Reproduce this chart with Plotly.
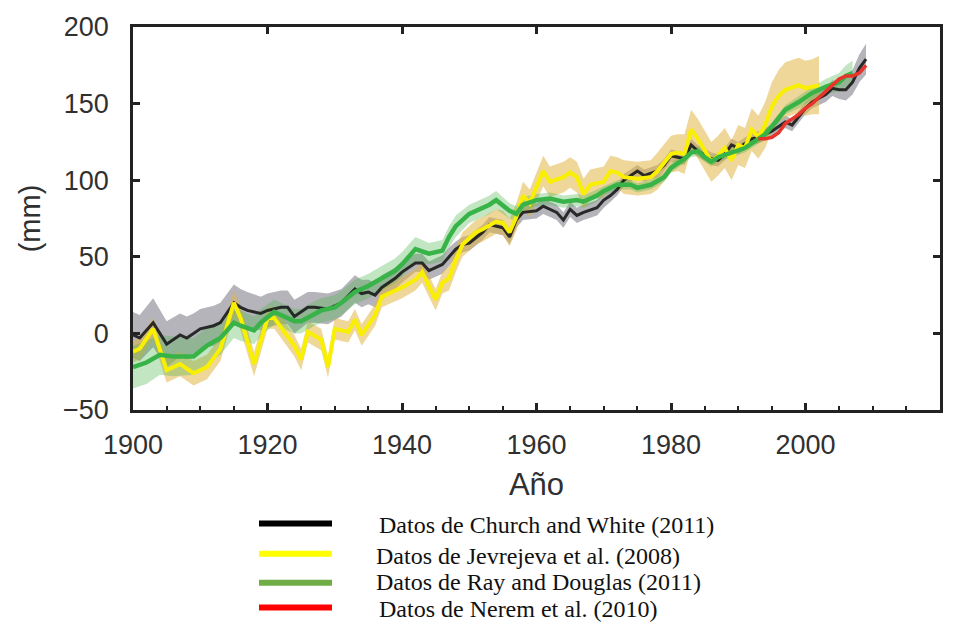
import plotly.graph_objects as go

# ---------------- data ----------------
cw_years = [1900,1901,1903,1905,1907,1908,1909,1910,1912,1913,1915,1916,1917,1919,1920,1922,1923,1924,1926,1927,
            1929,1931,1933,1934,1935,1936,1937,1939,1940,1942,1943,1944,1946,1947,1948,1949,1950,1952,1953,1955,
            1956,1957,1958,1960,1961,1963,1964,1965,1966,1967,1969,1970,1971,1972,1973,1975,1976,1978,1979,1980,
            1982,1983,1984,1986,1987,1988,1989,1990,1992,1993,1995,1997,1998,2000,2001,2003,2004,2005,2006,2007,
            2008,2009]
cw_vals = [-1,-3,7,-7,-1,-3,0,3,5,7,20,17,15,13,15,17,17,11,17,17,
           16,20,29,26,27,25,30,36,40,46,46,41,45,50,55,58,59,66,71,69,
           63,74,79,80,83,79,74,81,77,79,82,87,90,94,100,106,103,106,110,116,
           114,123,119,114,113,117,123,121,127,128,132,138,136,147,151,156,160,159,159,164,
           173,179]
cw_err = [15,15,16,15,14,14,13,13,13,13,12,12,12,11,11,11,11,11,10,10,
          10,9,9,9,8,8,8,7,7,6,6,6,6,6,5,5,5,5,5,5,
          5,5,5,5,5,5,5,5,5,5,5,5,4,4,4,4,4,4,4,4,
          4,4,4,4,4,4,4,4,4,4,4,4,4,4,4,5,5,6,7,8,
          9,10]

jv_years = [1900,1901,1903,1905,1907,1909,1911,1913,1915,1916,1918,1920,1921,1924,1925,1926,1928,1929,1930,1932,
            1933,1934,1936,1937,1939,1940,1942,1943,1945,1946,1947,1948,1949,1951,1952,1954,1955,1956,1957,1958,
            1959,1961,1962,1964,1965,1966,1967,1968,1970,1971,1972,1973,1975,1977,1978,1980,1981,1982,1983,1984,
            1986,1987,1988,1989,1990,1991,1992,1993,1994,1995,1996,1997,1999,2000,2001,2002]
jv_vals = [-12,-10,3,-24,-20,-26,-22,-10,20,10,-20,10,10,-8,-17,1,-4,-22,3,1,
           9,-1,12,24,28,30,35,40,22,33,36,48,58,66,68,73,72,66,76,90,
           85,106,99,102,105,102,91,97,99,106,105,102,101,102,106,117,118,117,133,127,
           112,116,121,113,123,121,133,128,136,148,155,159,162,160,161,162]
jv_err = [7,7,7,8,8,8,8,8,8,8,8,7,7,7,7,7,7,7,7,7,
          7,7,7,7,7,7,7,7,7,7,8,8,8,8,8,8,8,9,9,9,
          9,10,10,10,10,10,10,10,10,10,10,11,11,11,12,12,12,13,13,13,
          13,13,13,13,13,13,14,14,15,16,17,18,18,18,18,19]

rd_years = [1900,1902,1904,1906,1909,1911,1913,1915,1916,1918,1919,1921,1922,1924,1925,1927,1928,1930,1931,1933,
            1935,1937,1939,1940,1941,1942,1944,1946,1947,1948,1950,1951,1953,1954,1956,1957,1958,1960,1962,1964,
            1966,1967,1969,1970,1972,1974,1975,1977,1979,1980,1982,1983,1984,1985,1986,1987,1989,1991,1992,1993,
            1994,1995,1997,1999,2001,2003,2005,2006,2007]
rd_vals = [-22,-19,-14,-15,-15,-8,-3,7,5,2,7,14,12,8,8,13,15,17,20,27,
           31,36,41,45,50,55,52,54,63,70,78,80,84,87,80,78,84,87,88,86,
           87,86,90,93,97,97,95,97,102,108,114,118,119,115,112,115,118,121,124,127,
           130,135,146,151,157,161,164,168,170]
rd_err = [14,14,13,13,12,12,11,10,10,9,9,8,8,8,8,8,8,8,8,8,
          8,8,8,8,8,8,7,7,7,7,6,6,6,6,5,5,5,4,4,4,
          4,4,4,3,3,3,3,3,3,3,3,3,3,3,3,3,3,3,3,3,
          3,3,3,4,4,5,6,7,8]

nr_years = [1993,1994,1995,1996,1997,1998,1999,2000,2001,2002,2003,2004,2005,2006,2007,2008,2009]
nr_vals = [127,127,128,131,137,140,143,147,150,154,158,162,166,168,168,170,175]

x_tick_vals = [1900, 1920, 1940, 1960, 1980, 2000]
x_tick_text = ["1900", "1920", "1940", "1960", "1980", "2000"]
y_tick_vals = [-50, 0, 50, 100, 150, 200]

legend_labels = ["Datos de Church and White (2011)",
                 "Datos de Jevrejeva et al. (2008)",
                 "Datos de Ray and Douglas (2011)",
                 "Datos de Nerem et al. (2010)"]
legend_colors = ["#000000", "#FFFF00", "#70AD47", "#FF0000"]

# ---------------- figure ----------------
W, H = 973, 635
L, R, T, B = 133, 33, 22, 225
PW, PH = W - L - R, H - T - B


def band(years, vals, err, color):
    up = [v + e for v, e in zip(vals, err)]
    lo = [v - e for v, e in zip(vals, err)]
    return go.Scatter(x=list(years) + list(years[::-1]), y=up + lo[::-1],
                      fill="toself", fillcolor=color, mode="none",
                      hoverinfo="skip", showlegend=False)


fig = go.Figure()
fig.add_trace(band(cw_years, cw_vals, cw_err, "rgba(130,130,140,0.6)"))
fig.add_trace(band(jv_years, jv_vals, jv_err, "rgba(225,180,70,0.55)"))
fig.add_trace(band(rd_years, rd_vals, rd_err, "rgba(80,180,80,0.35)"))

fig.add_trace(go.Scatter(x=cw_years, y=cw_vals, mode="lines",
                         line=dict(color="rgba(25,25,25,0.9)", width=3), showlegend=False))
fig.add_trace(go.Scatter(x=jv_years, y=jv_vals, mode="lines",
                         line=dict(color="#F8F000", width=4), showlegend=False))
fig.add_trace(go.Scatter(x=rd_years, y=rd_vals, mode="lines",
                         line=dict(color="#38B348", width=4.5), showlegend=False))
fig.add_trace(go.Scatter(x=nr_years, y=nr_vals, mode="lines",
                         line=dict(color="#E8342A", width=3.5), showlegend=False))
# carrier for the top (mirror) major ticks
fig.add_trace(go.Scatter(x=[None], y=[None], xaxis="x2", showlegend=False, hoverinfo="skip"))

tick_font = dict(family="Liberation Sans, Arial, sans-serif", size=27, color="#303030")

fig.update_layout(
    width=W, height=H,
    margin=dict(l=L, r=R, t=T, b=B, pad=0),
    paper_bgcolor="white", plot_bgcolor="white",
    showlegend=False,
    xaxis=dict(range=[1900, 2020], tickmode="array", tickvals=x_tick_vals, ticktext=x_tick_text,
               ticks="inside", ticklen=7, tickwidth=2.5, tickcolor="#222",
               minor=dict(tickmode="linear", tick0=1900, dtick=5, ticks="inside", ticklen=4,
                          tickwidth=2, tickcolor="#222", showgrid=False),
               showline=True, linecolor="#222", linewidth=2.5, mirror=True,
               showgrid=False, zeroline=False, tickfont=tick_font, ticklabelstandoff=9,
               title=dict(text="Año", font=dict(family="Liberation Sans, Arial, sans-serif", size=31,
                                                color="#303030"), standoff=15)),
    xaxis2=dict(range=[1900, 2020], overlaying="x", side="top", anchor="y",
                tickmode="array", tickvals=x_tick_vals, ticks="inside", ticklen=7, tickwidth=2.5,
                tickcolor="#222", showticklabels=False, showline=False, showgrid=False, zeroline=False),
    yaxis=dict(range=[-50, 200], tickmode="array", tickvals=y_tick_vals,
               ticks="inside", ticklen=7, tickwidth=2.5, tickcolor="#222",
               showline=True, linecolor="#222", linewidth=2.5, mirror="ticks",
               showgrid=False, zeroline=False, tickfont=tick_font, ticklabelstandoff=16,
               title=dict(text="(mm)", font=dict(family="Liberation Sans, Arial, sans-serif", size=29,
                                                 color="#303030"), standoff=14)),
)


def pxx(x):
    return (x - L) / PW


def pyy(y):
    return (T + PH - y) / PH


line_rows_y = [525, 555.7, 585, 610]
text_rows_y = [526, 557.5, 584.5, 612]
text_rows_x = [377, 374, 374, 377]

for lab, col, ly, ty, tx in zip(legend_labels, legend_colors, line_rows_y, text_rows_y, text_rows_x):
    fig.add_shape(type="line", xref="paper", yref="paper",
                  x0=pxx(259), x1=pxx(332), y0=pyy(ly), y1=pyy(ly),
                  line=dict(color=col, width=6))
    fig.add_annotation(xref="paper", yref="paper", x=pxx(tx), y=pyy(ty),
                       xanchor="left", yanchor="middle", showarrow=False, text=lab,
                       font=dict(family="Liberation Serif, Times New Roman, serif", size=24, color="#111"))

fig.write_html("out.html")
